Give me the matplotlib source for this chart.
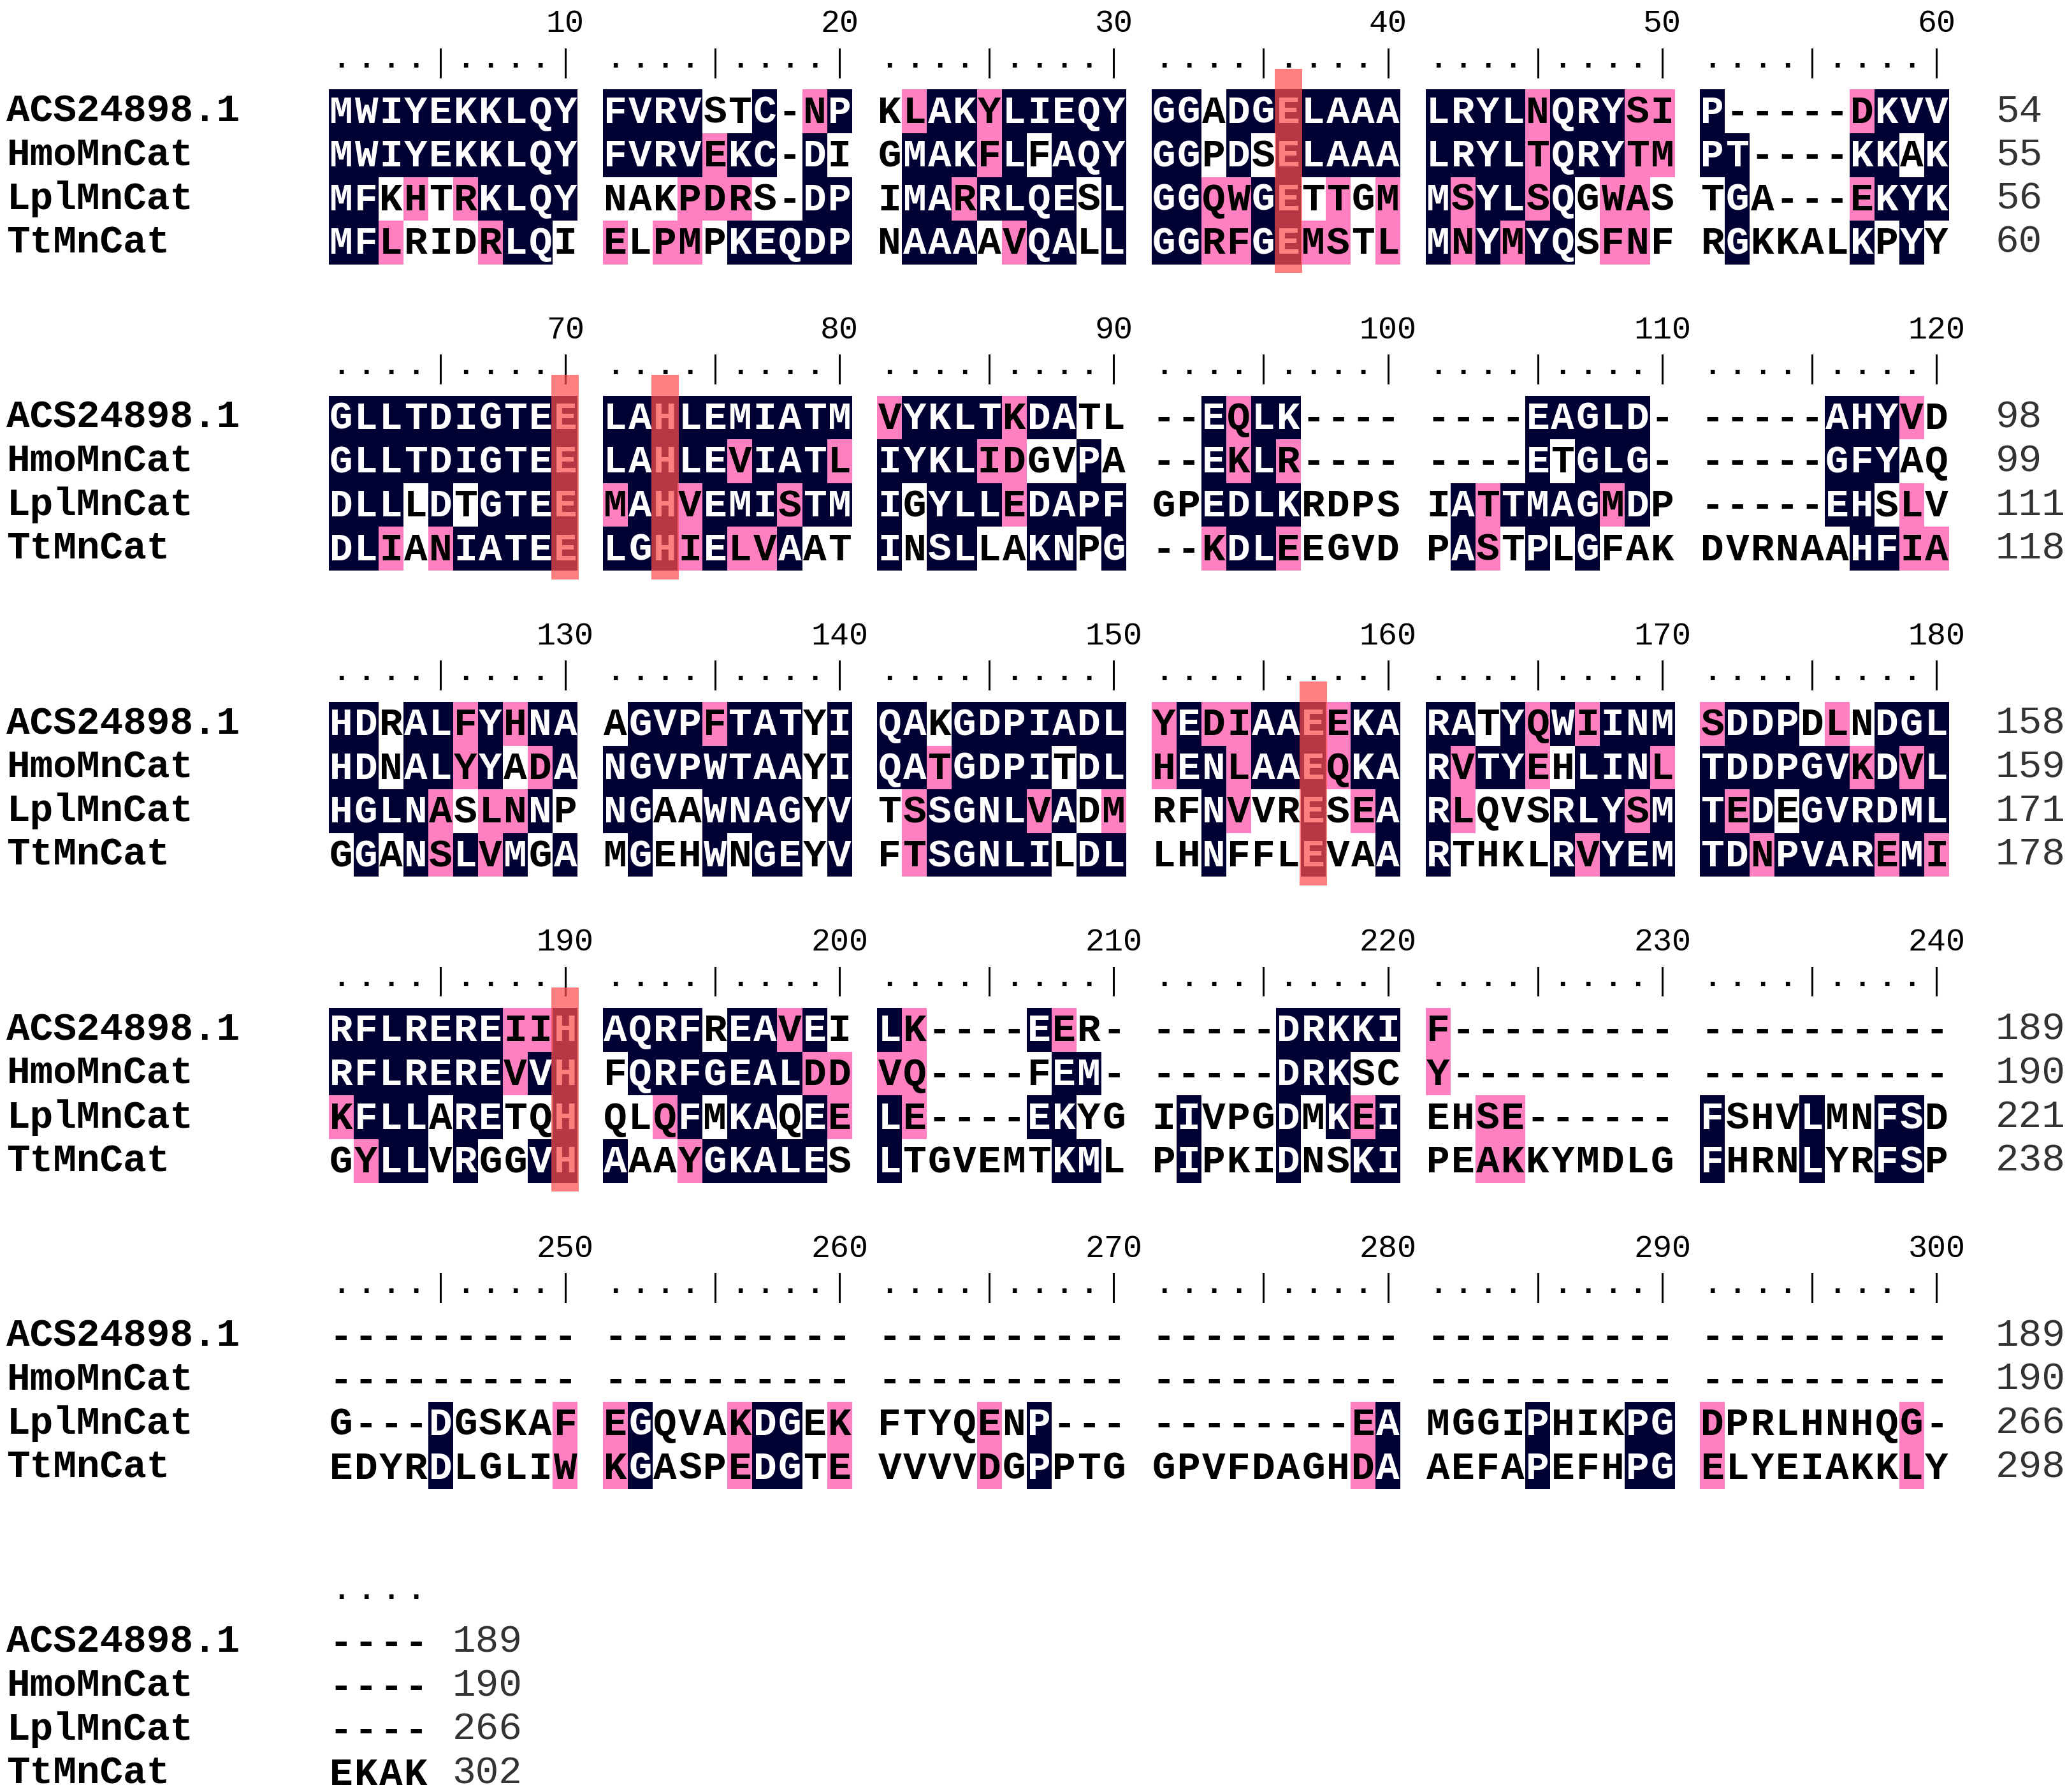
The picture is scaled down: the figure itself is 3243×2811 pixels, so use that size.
import matplotlib
matplotlib.use("Agg")
import matplotlib.pyplot as plt
from matplotlib.patches import Rectangle

names = ["ACS24898.1", "HmoMnCat", "LplMnCat", "TtMnCat"]

seq_ACS = ["MWIYEKKLQYFVRVSTC-NPKLAKYLIEQYGGADGELAAALRYLNQRYSIP-----DKVV",
           "GLLTDIGTEELAHLEMIATMVYKLTKDATL--EQLK--------EAGLD------AHYVD",
           "HDRALFYHNAAGVPFTATYIQAKGDPIADLYEDIAAEEKARATYQWIINMSDDPDLNDGL",
           "RFLREREIIHAQRFREAVEILK----EER------DRKKIF-------------------",
           "-" * 60, "----"]
seq_Hmo = ["MWIYEKKLQYFVRVEKC-DIGMAKFLFAQYGGPDSELAAALRYLTQRYTMPT----KKAK",
           "GLLTDIGTEELAHLEVIATLIYKLIDGVPA--EKLR--------ETGLG------GFYAQ",
           "HDNALYYADANGVPWTAAYIQATGDPITDLHENLAAEQKARVTYEHLINLTDDPGVKDVL",
           "RFLREREVVHFQRFGEALDDVQ----FEM------DRKSCY-------------------",
           "-" * 60, "----"]
seq_Lpl = ["MFKHTRKLQYNAKPDRS-DPIMARRLQESLGGQWGETTGMMSYLSQGWASTGA---EKYK",
           "DLLLDTGTEEMAHVEMISTMIGYLLEDAPFGPEDLKRDPSIATTMAGMDP-----EHSLV",
           "HGLNASLNNPNGAAWNAGYVTSSGNLVADMRFNVVRESEARLQVSRLYSMTEDEGVRDML",
           "KFLLARETQHQLQFMKAQEELE----EKYGIIVPGDMKEIEHSE------FSHVLMNFSD",
           "G---DGSKAFEGQVAKDGEKFTYQENP-----------EAMGGIPHIKPGDPRLHNHQG-",
           "----"]
seq_Tt = ["MFLRIDRLQIELPMPKEQDPNAAAAVQALLGGRFGEMSTLMNYMYQSFNFRGKKALKPYY",
          "DLIANIATEELGHIELVAATINSLLAKNPG--KDLEEGVDPASTPLGFAKDVRNAAHFIA",
          "GGANSLVMGAMGEHWNGEYVFTSGNLILDLLHNFFLEVAARTHKLRVYEMTDNPVAREMI",
          "GYLLVRGGVHAAAYGKALESLTGVEMTKMLPIPKIDNSKIPEAKKYMDLGFHRNLYRFSP",
          "EDYRDLGLIWKGASPEDGTEVVVVDGPPTGGPVFDAGHDAAEFAPEFHPGELYEIAKKLY",
          "EKAK"]

# shading: N = identical (navy), P = similar (pink), . = none
shade_ACS = ["NNNNNNNNNNNNNN..N.PN.PNNPNNNNNNN.NNNNNNNNNNNPNNNPPN.....PNNN",
             "NNNNNNNNNNNNNNNNNNNNPNNNNPNN....NPNN........NNNNN......NNNP.",
             "NN.NNPNPNN.NNNPNNN.NNN.NNNNNNNPNPPNNNPNNNN.NPNPNNNPNNN.P.NNN",
             "NNNNNNNPPNNNNN.NNPN.NP....NP.......NNNNNP...................",
             "." * 60, "...."]
shade_Hmo = ["NNNNNNNNNNNNNNPNN.N..NNNPN.NNNNN.N.NNNNNNNNNPNNNPPNN....NN.N",
             "NNNNNNNNNNNNNNNPNNNPNNNNPP..N...NPNP........N.NNN......NNN..",
             "NN.NNPN.PNNNNNNNNN.NNNPNNNN.NNPNNPNNNPNNNPNNP.NNNPNNNNNNPNPN",
             "NNNNNNNPNN.NNNNNNNPPPP.....NN......NNN..P...................",
             "." * 60, "...."]
shade_Lpl = ["NN.P.PNNNN...PPP..NN.NNPNNNN.NNNPPNN.P.PNPNNPN.PP..N....PNNN",
             "NNN.N.NNNNPNNPNNNPNNN.NNNPNNNN..NNNN.....NPNNNNPN......NN.P.",
             "NNNNP.PPN.NN..NNNN.N.PNNNNPN.P..NP..N.PNNP...NNNPNNPN.NNNNNN",
             "PNNN.NN..N..PN.NN.NPNP....NN...N...N.NPN..PP......N...N..NN.",
             "....N....PPN...PNN.P....P.N...........PN....N...NNP.......P.",
             "...."]
shade_Tt = ["NNP...PNN.P.PP.NNNNN.NNN.PNN.NNNPPNNPP.PNPNPNN.PP..N....N.N.",
            "NNP.PNNNNNNNNPNPPN..N.NN..NN.N..PNNP.....NP.N.N.........NNPP.",
            ".N.NPNPN.N.N..N.NN.N.PNNNNN.NN..N...N..NN....NPNNNNNPNNNNPNP",
            ".PNN.N..NN N..PNNNNN.N......NN..N...N..NN..PP......N...N..NN."[:60].replace(" ", "N") if False else
            ".PNN.N..NNN..PNNNNN.N......NN..N...N..NN..PP......N...N..NN.",
            "....N....PPN...PNN.P....P.N...........PN....N...NNP.......P.",
            "...."]

end_numbers = [[54, 55, 56, 60], [98, 99, 111, 118], [158, 159, 171, 178],
               [189, 190, 221, 238], [189, 190, 266, 298], [189, 190, 266, 302]]
highlight_cols = [36, 70, 73, 157, 190]

seqs = [seq_ACS, seq_Hmo, seq_Lpl, seq_Tt]
shades = [shade_ACS, shade_Hmo, shade_Lpl, shade_Tt]

NAVY = "#000033"
PINK = "#ff80c0"
CW = 18.8
X0 = 248.0
RH = 33.0
BLOCK_DY = 231.0
Y0 = 84.0

fig = plt.figure(figsize=(32.43, 28.11), dpi=100)
ax = fig.add_axes([0, 0, 1, 1])
ax.set_xlim(0, 1560)
ax.set_ylim(1352, 0)
ax.axis("off")

def colx(c):
    return X0 + (c // 10) * 207.0 + (c % 10) * CW

mono = "Liberation Mono"
for b in range(6):
    ncol = len(seqs[0][b])
    yb = Y0 + b * BLOCK_DY
    # ruler
    yr = yb - 34
    for c in range(ncol):
        xc = colx(c) + CW / 2
        pos = c + 1
        if pos % 5 == 0:
            ax.plot([xc, xc], [yr - 13, yr + 8], color="black", lw=2.2)
        else:
            ax.text(xc, yr + 6, ".", fontsize=34, family=mono, ha="center", va="bottom", fontweight="bold")
        if pos % 10 == 0 and b < 5:
            ax.text(xc, yb - 66, str(b * 60 + pos), fontsize=36, family=mono,
                    ha="center", va="center")
    for r in range(4):
        y = yb + r * RH
        ax.text(5, y, names[r], fontsize=44, family=mono, fontweight="bold",
                ha="left", va="center")
        s = seqs[r][b]
        sh = shades[r][b]
        for c, ch in enumerate(s):
            x = colx(c)
            k = sh[c]
            if k == "N":
                ax.add_patch(Rectangle((x, y - RH / 2), CW, RH, color=NAVY, lw=0))
                tc = "white"
            elif k == "P":
                ax.add_patch(Rectangle((x, y - RH / 2), CW, RH, color=PINK, lw=0))
                tc = "black"
            else:
                tc = "black"
            ax.text(x + CW / 2, y + 1, ch, fontsize=44, family=mono, fontweight="bold",
                    color=tc, ha="center", va="center", zorder=3)
        xn = colx(ncol - 1) + CW + (35 if b < 5 else 18)
        ax.text(xn, y, str(end_numbers[b][r]), fontsize=44, family=mono,
                color="#333333", ha="left", va="center")
    for hc in highlight_cols:
        if b * 60 < hc <= b * 60 + 60:
            c = hc - b * 60 - 1
            ax.add_patch(Rectangle((colx(c) - 1, yb - 32), CW + 2, 3 * RH + 55,
                                   facecolor=(1, 0.3, 0.3), alpha=0.72, lw=0, zorder=4))

fig.savefig("out.png", dpi=100)
